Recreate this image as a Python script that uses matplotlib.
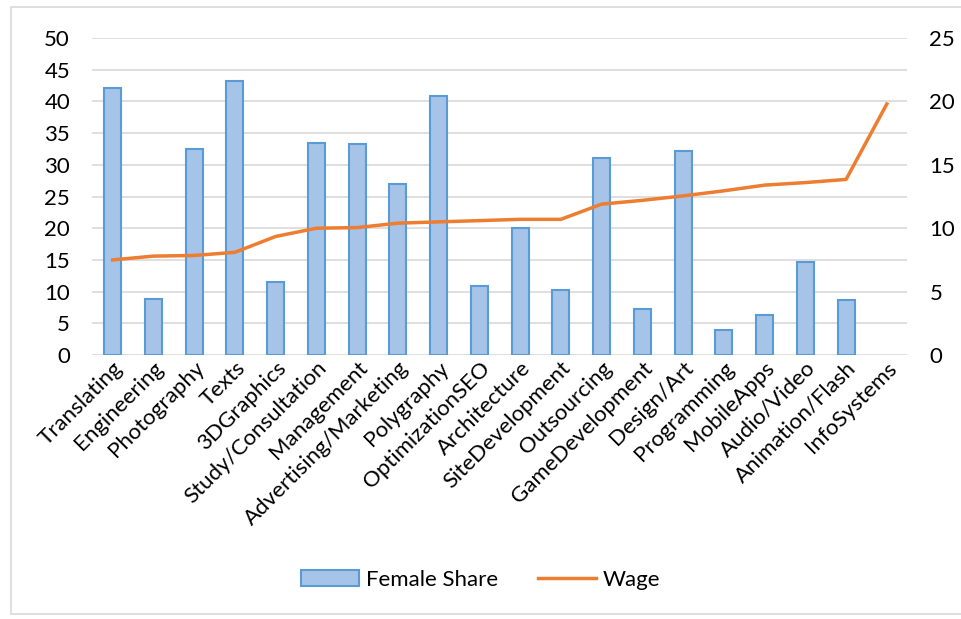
import matplotlib.pyplot as plt
from matplotlib.patches import Rectangle
from matplotlib.lines import Line2D

categories = ['Translating', 'Engineering', 'Photography', 'Texts', '3DGraphics',
              'Study/Consultation', 'Management', 'Advertising/Marketing', 'Polygraphy',
              'OptimizationSEO', 'Architecture', 'SiteDevelopment', 'Outsourcing',
              'GameDevelopment', 'Design/Art', 'Programming', 'MobileApps',
              'Audio/Video', 'Animation/Flash', 'InfoSystems']
# no female share value for InfoSystems
female_share = [42.2, 8.9, 32.5, 43.3, 11.5, 33.4, 33.3, 26.9, 40.9, 10.9,
                20.0, 10.2, 31.1, 7.2, 32.2, 3.9, 6.3, 14.7, 8.7, float('nan')]
wage = [7.5, 7.8, 7.85, 8.1, 9.35, 10.0, 10.05, 10.4, 10.5, 10.6,
        10.7, 10.7, 11.9, 12.2, 12.55, 12.95, 13.4, 13.6, 13.85, 19.8]

plt.rcParams['font.family'] = ['Lato', 'DejaVu Sans']
FS = 16

fig = plt.figure(figsize=(9.61, 6.19), dpi=100)
fig.patches.append(Rectangle((0.011, 0.008), 0.99, 0.98, transform=fig.transFigure,
                             fill=False, edgecolor='#d9d9d9', linewidth=1.2))

ax = fig.add_axes([0.096, 0.4265, 0.848, 0.512])
x = list(range(len(categories)))
ax.bar(x, female_share, width=0.42, color='#a6c3e8', edgecolor='#5b9bd5',
       linewidth=1.5, zorder=2)
ax.set_ylim(0, 50)
ax.set_yticks(range(0, 51, 5))
ax.set_xlim(-0.5, len(categories) - 0.5)
ax.grid(axis='y', color='#d9d9d9', linewidth=1.2, zorder=0)
ax.set_axisbelow(True)
for s in ax.spines.values():
    s.set_visible(False)
ax.tick_params(axis='both', length=0, labelsize=FS, colors='black')
ax.tick_params(axis='y', pad=16)
ax.set_xticks(x)
ax.set_xticklabels(categories, rotation=45, ha='right', rotation_mode='anchor')
ax.tick_params(axis='x', pad=2)

ax2 = ax.twinx()
ax2.plot(x, wage, color='#ed7d31', linewidth=2.5, zorder=3)
ax2.set_ylim(0, 25)
ax2.set_yticks(range(0, 26, 5))
for s in ax2.spines.values():
    s.set_visible(False)
ax2.tick_params(axis='y', length=0, labelsize=FS, pad=16)

handles = [Rectangle((0, 0), 1, 1, facecolor='#a6c3e8', edgecolor='#5b9bd5', linewidth=1.5),
           Line2D([0], [0], color='#ed7d31', linewidth=2.5)]
fig.legend(handles, ['Female Share', 'Wage'], loc='center', bbox_to_anchor=(0.5, 0.063),
           ncol=2, frameon=False, fontsize=FS, handlelength=2.6, columnspacing=1.8,
           handletextpad=0.3)

fig.savefig('out.png', dpi=100)
